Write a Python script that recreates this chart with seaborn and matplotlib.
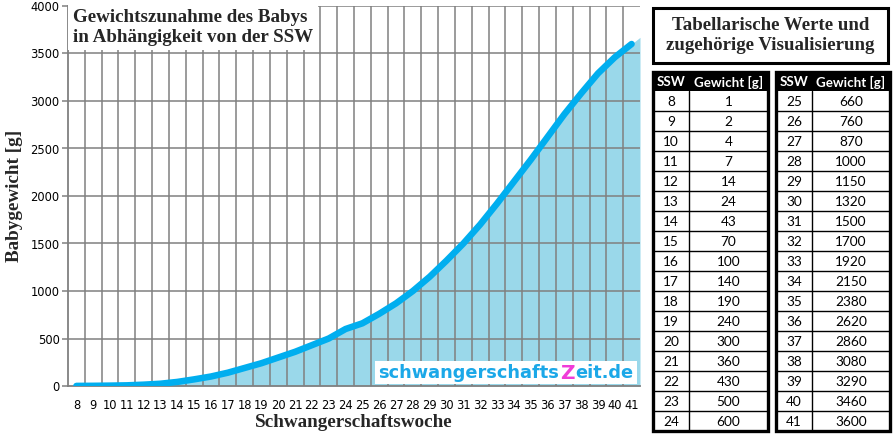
import matplotlib
matplotlib.use("Agg")
import matplotlib.pyplot as plt
import seaborn as sns
import pandas as pd
import numpy as np
from matplotlib.patches import Rectangle

ssw = list(range(8, 42))
gewicht = [1, 2, 4, 7, 14, 24, 43, 70, 100, 140, 190, 240, 300, 360, 430, 500, 600,
           660, 760, 870, 1000, 1150, 1320, 1500, 1700, 1920, 2150, 2380, 2620, 2860,
           3080, 3290, 3460, 3600]
y_ticks = [0, 500, 1000, 1500, 2000, 2500, 3000, 3500, 4000]

title_chart = "Gewichtszunahme des Babys\nin Abhängigkeit von der SSW"
title_table = "Tabellarische Werte und\nzugehörige Visualisierung"
xlabel = "Schwangerschaftswoche"
ylabel = "Babygewicht [g]"
col_headers = ["SSW", "Gewicht [g]"]
watermark = ["schwangerschafts", "Z", "eit.de"]

sns.set_theme(style="white")
plt.rcParams['font.family'] = ['DejaVu Sans']

df = pd.DataFrame({"SSW": ssw, "Gewicht": gewicht})

W, H = 894, 436
fig = plt.figure(figsize=(W / 100, H / 100), dpi=100)
fig.patch.set_facecolor("white")

ax = fig.add_axes([68 / W, 1 - 386 / H, 572 / W, 380 / H])
ax.set_facecolor("white")
ax.set_xlim(7.5, 41.5)
ax.set_ylim(0, 4000)

grid_col = "#808080"

# area under the line, continued to the right plot edge with the last slope
fx = np.array(ssw, dtype=float)
fy = np.array(gewicht, dtype=float)
slope = fy[-1] - fy[-2]
fx = np.concatenate([[7.5], fx, [41.5]])
fy = np.concatenate([[fy[0]], fy, [fy[-1] + 0.5 * slope]])
ax.fill_between(fx, fy, 0, color="#9AD8EA", zorder=2, lw=0)
for xv in np.arange(8.5, 41.5, 1.0):
    ax.axvline(xv, color=grid_col, lw=1.1, zorder=2.5)
for yv in y_ticks[1:]:
    ax.axhline(yv, color=grid_col, lw=1.1, zorder=2.5)

sns.lineplot(data=df, x="SSW", y="Gewicht", ax=ax, color="#00AEEF", lw=4.7,
             zorder=3, solid_capstyle="round")

ax.set_xticks(ssw)
ax.set_xticks(np.arange(8.5, 41.5, 1.0), minor=True)
ax.set_yticks(y_ticks)
ax.tick_params(axis="x", which="major", length=0, labelsize=8.3, pad=9)
ax.tick_params(axis="x", which="minor", length=4, width=1.1, color=grid_col, direction="out")
ax.tick_params(axis="y", which="major", length=4, width=1.1, color=grid_col, labelsize=8.3,
               pad=2, left=True)
for t in ax.get_yticklabels() + ax.get_xticklabels():
    t.set_color("black")
for s in ["top", "right"]:
    ax.spines[s].set_visible(False)
for s in ["left", "bottom"]:
    ax.spines[s].set_color(grid_col)
    ax.spines[s].set_linewidth(1.3)

ax.set_xlabel(xlabel, family="Liberation Serif", fontweight="bold", fontsize=13.8, labelpad=2)
ax.set_ylabel(ylabel, family="Liberation Serif", fontweight="bold", fontsize=13.8, labelpad=5)

ax.text(0.009, 0.992, title_chart, transform=ax.transAxes, ha="left", va="top",
        family="Liberation Serif", fontweight="bold", fontsize=13.7, linespacing=1.2,
        zorder=5, bbox=dict(boxstyle="square,pad=0.25", fc="white", ec="none"))

# watermark
ax.add_patch(Rectangle((375 / W, 1 - 384 / H), (637 - 375) / W, 23 / H,
                       transform=fig.transFigure, fc="white", ec="none", zorder=5))
colors_wm = ["#1BA8E8", "#F03CD8", "#1BA8E8"]
sizes_wm = [12.8, 14.5, 12.8]
fig.canvas.draw()
renderer = fig.canvas.get_renderer()
xpos = 378
for txt, c, fs in zip(watermark, colors_wm, sizes_wm):
    t = fig.text(xpos / W, 1 - 373 / H, txt, ha="left", va="center", family="DejaVu Sans",
                 fontweight="bold", fontsize=fs, color=c, zorder=6)
    bb = t.get_window_extent(renderer=renderer)
    xpos += bb.width + 1

# right side overlay
ov = fig.add_axes([0, 0, 1, 1], facecolor="none")
ov.set_xlim(0, W)
ov.set_ylim(H, 0)
ov.axis("off")

ov.add_patch(Rectangle((653, 8), 235, 55, fc="white", ec="black", lw=2.2))
ov.text(770.5, 35.5, title_table, ha="center", va="center", family="Liberation Serif",
        fontweight="bold", fontsize=13.6, linespacing=1.2)

tables = [(653, 689, 768, 0), (776, 812, 890, 17)]
top, hdr_bot, row_h, nrows = 72, 91, 20, 17
for x0, xm, x1, start in tables:
    ov.add_patch(Rectangle((x0, top), x1 - x0, hdr_bot - top, fc="black", ec="black", lw=0))
    ov.text((x0 + xm) / 2, (top + hdr_bot) / 2 + 0.5, col_headers[0], ha="center", va="center",
            color="white", fontweight="bold", family="Lato", fontsize=9.6)
    ov.text((xm + x1) / 2, (top + hdr_bot) / 2 + 0.5, col_headers[1], ha="center", va="center",
            color="white", fontweight="bold", family="Lato", fontsize=9.6)
    bot = hdr_bot + nrows * row_h
    for i in range(1, nrows):
        yy = hdr_bot + i * row_h
        ov.plot([x0, x1], [yy, yy], color="black", lw=1.0)
    ov.plot([xm, xm], [hdr_bot, bot], color="black", lw=1.0)
    ov.add_patch(Rectangle((x0, top), x1 - x0, bot - top, fc="none", ec="black", lw=2.4))
    for i in range(nrows):
        yc = hdr_bot + i * row_h + row_h / 2 + 0.5
        ov.text((x0 + xm) / 2, yc, str(ssw[start + i]), ha="center", va="center",
                family="Lato", fontsize=9.8, color="black")
        ov.text((xm + x1) / 2, yc, str(gewicht[start + i]), ha="center", va="center",
                family="Lato", fontsize=9.8, color="black")

fig.savefig("out.png", dpi=100)
